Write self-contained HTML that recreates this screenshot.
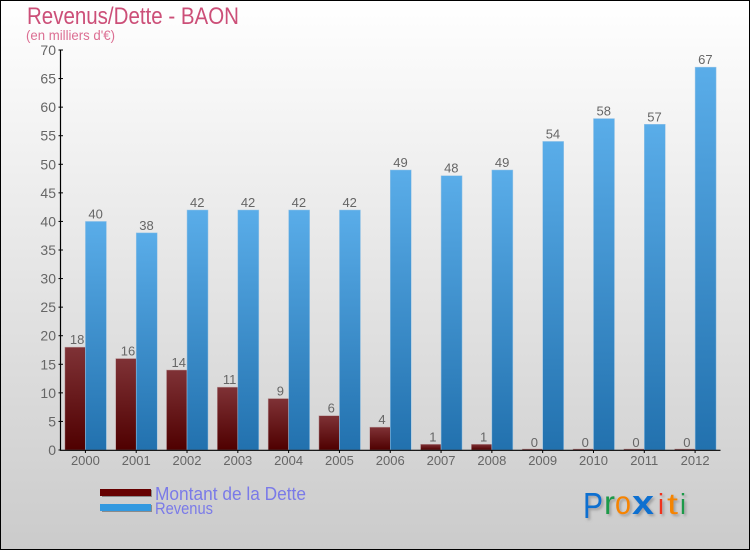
<!DOCTYPE html>
<html lang="fr">
<head>
<meta charset="utf-8">
<title>Revenus/Dette - BAON</title>
<style>
html,body{margin:0;padding:0;width:750px;height:550px;overflow:hidden;background:#fff}
svg{display:block}
text{font-family:"Liberation Sans","DejaVu Sans",sans-serif}
</style>
</head>
<body>
<svg id="chart" xmlns="http://www.w3.org/2000/svg" width="750" height="550" viewBox="0 0 750 550">
  <defs>
    <linearGradient id="bgGrad" x1="0" y1="0" x2="0" y2="1">
      <stop offset="0" stop-color="#ffffff"/>
      <stop offset="1" stop-color="#cbcbcb"/>
    </linearGradient>
    <linearGradient id="debtGrad" x1="0" y1="0" x2="0" y2="1">
      <stop offset="0" stop-color="#7f3236"/>
      <stop offset="1" stop-color="#4f0000"/>
    </linearGradient>
    <linearGradient id="revGrad" x1="0" y1="0" x2="0" y2="1">
      <stop offset="0" stop-color="#5aade9"/>
      <stop offset="1" stop-color="#2271ae"/>
    </linearGradient>
    <filter id="logoShadow" x="-20%" y="-20%" width="140%" height="140%">
      <feDropShadow dx="2" dy="2" stdDeviation="1.2" flood-color="#777" flood-opacity="0.55"/>
    </filter>
  </defs>

  <rect x="0.5" y="0.5" width="749" height="549" fill="url(#bgGrad)" stroke="#000" stroke-width="1"/>

  <text x="27" y="24" font-size="24" fill="#cc4f78" textLength="212" lengthAdjust="spacingAndGlyphs">Revenus/Dette - BAON</text>
  <text x="26" y="40" font-size="14" fill="#dc6f93" textLength="89" lengthAdjust="spacingAndGlyphs">(en milliers d'€)</text>

  <g id="bars"></g>
  <g id="axes"></g>
  <g id="labels"></g>

  <g>
    <rect x="102" y="490" width="50" height="7" fill="#8a8a8a"/>
    <rect x="100" y="489" width="51" height="7" fill="#660000"/>
    <text x="155" y="500" font-size="18" fill="#7a7ae8" textLength="151" lengthAdjust="spacingAndGlyphs">Montant de la Dette</text>
    <rect x="102" y="505" width="50" height="7" fill="#8a8a8a"/>
    <rect x="100" y="504" width="51" height="7" fill="#3399e0"/>
    <text x="155" y="514" font-size="17" fill="#7a7ae8" textLength="58" lengthAdjust="spacingAndGlyphs">Revenus</text>
  </g>

  <g filter="url(#logoShadow)">
    <text x="583" y="518" font-size="36" fill="#0a6fd0" textLength="20" lengthAdjust="spacingAndGlyphs">P</text>
    <text x="604" y="514" font-size="33" fill="#1f9a4a" textLength="11" lengthAdjust="spacingAndGlyphs">r</text>
    <text x="615" y="514" font-size="33" fill="#f58400" textLength="16" lengthAdjust="spacingAndGlyphs">o</text>
    <text x="632" y="514" font-size="34" font-weight="bold" fill="#0a6fd0" textLength="22" lengthAdjust="spacingAndGlyphs">x</text>
    <text x="658" y="514" font-size="29" fill="#f0301a" textLength="6" lengthAdjust="spacingAndGlyphs">i</text>
    <text x="667" y="514" font-size="30" fill="#f58400" textLength="11" lengthAdjust="spacingAndGlyphs">t</text>
    <text x="680" y="514" font-size="29" fill="#1f9a4a" textLength="6" lengthAdjust="spacingAndGlyphs">i</text>
  </g>
</svg>
<script>
const categories = ['2000','2001','2002','2003','2004','2005','2006','2007','2008','2009','2010','2011','2012'];
const debtValues = [18,16,14,11,9,6,4,1,1,0,0,0,0];
const revenueValues = [40,38,42,42,42,42,49,48,49,54,58,57,67];
const yTickValues = [0,5,10,15,20,25,30,35,40,45,50,55,60,65,70];

const NS = 'http://www.w3.org/2000/svg';
const plotLeft = 60, plotRight = 720.5, plotTop = 50, plotBottom = 450, yMax = 70;
const step = (plotRight - plotLeft) / categories.length;
const barW = 20.5;
const labelColor = '#666';
function xCenter(i){ return plotLeft + step * (i + 0.5); }
function yScale(v){ return plotBottom - (v / yMax) * (plotBottom - plotTop); }
function mk(tag, attrs, parent, text){
  const el = document.createElementNS(NS, tag);
  for (const k in attrs) el.setAttribute(k, attrs[k]);
  if (text !== undefined) el.textContent = text;
  parent.appendChild(el);
  return el;
}
const barsG = document.getElementById('bars');
const axesG = document.getElementById('axes');
const labelsG = document.getElementById('labels');

categories.forEach(function(cat, i){
  const c = xCenter(i);
  const d = debtValues[i], r = revenueValues[i];

  const dy = yScale(d);
  const dh = Math.max(plotBottom - dy, 1);
  const debtBar = mk('rect', {x: c - barW, y: plotBottom - dh, width: barW, height: dh, fill: 'url(#debtGrad)', stroke: '#b99a9c', 'stroke-width': 0.5}, barsG);
  
  

  const ry = yScale(r);
  const revBar = mk('rect', {x: c, y: ry, width: barW + 0.5, height: plotBottom - ry, fill: 'url(#revGrad)', stroke: '#9cc6e6', 'stroke-width': 0.5}, barsG);
  
  

  const debtLabel = mk('text', {x: c - barW / 2 + 2, y: dy - 3, 'font-size': 13, fill: labelColor, 'text-anchor': 'middle'}, labelsG, String(d));
  
  

  const revLabel = mk('text', {x: c + barW / 2, y: ry - 3, 'font-size': 13, fill: labelColor, 'text-anchor': 'middle'}, labelsG, String(r));
  
  

  const xTick = mk('line', {x1: c, x2: c, y1: plotBottom, y2: plotBottom + 3, stroke: '#000', 'stroke-width': 1}, axesG);
  
  

  const xLabel = mk('text', {x: c, y: 465, 'font-size': 13, fill: labelColor, 'text-anchor': 'middle'}, labelsG, cat);
  
  
});

yTickValues.forEach(function(v){
  const y = yScale(v);
  const tick = mk('line', {x1: 58.5, x2: v === 0 ? 60 : 63, y1: y, y2: y, stroke: '#000', 'stroke-width': 1}, axesG);
  
  

  const label = mk('text', {x: 56, y: y + 5, 'font-size': 14, fill: labelColor, 'text-anchor': 'end'}, labelsG, String(v));
  
  
});

const yAxis = mk('line', {x1: plotLeft + 0.5, x2: plotLeft + 0.5, y1: plotTop, y2: plotBottom + 0.5, stroke: '#000', 'stroke-width': 1.2}, axesG);



const xAxis = mk('line', {x1: plotLeft, x2: plotRight, y1: plotBottom + 0.3, y2: plotBottom + 0.3, stroke: '#000', 'stroke-width': 1.2}, axesG);


</script>
</body>
</html>
